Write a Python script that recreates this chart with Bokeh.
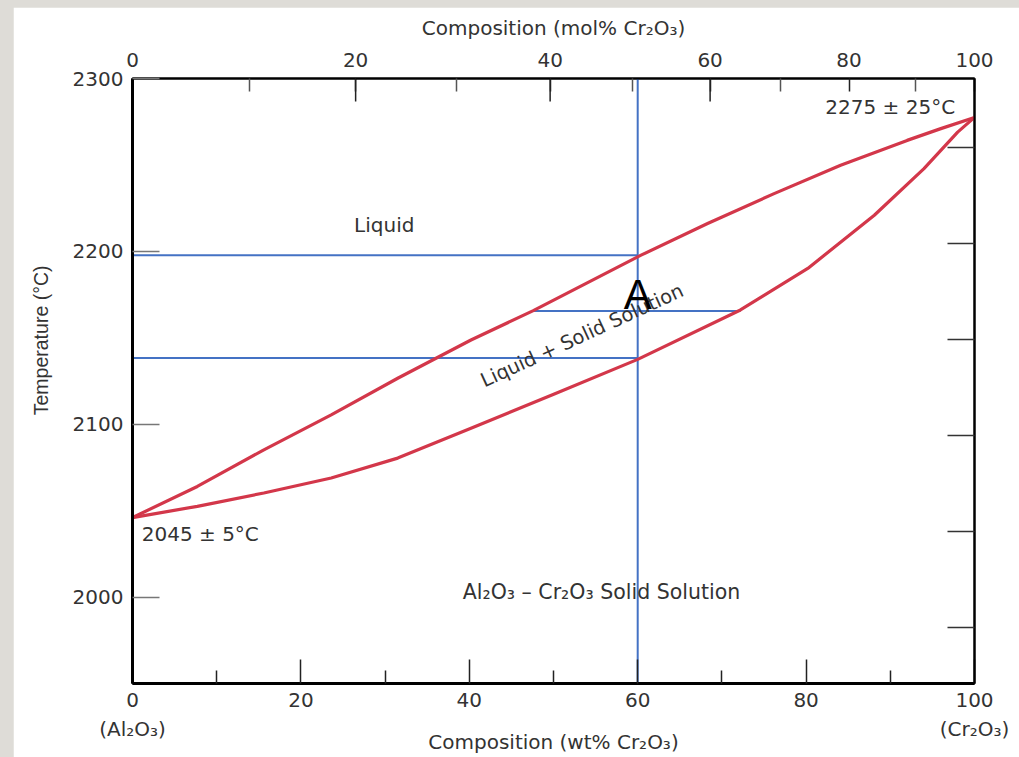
from bokeh.plotting import figure
from bokeh.models import LinearAxis, Range1d, FixedTicker, Label, Title
from bokeh.layouts import column
from bokeh.embed import file_html
from bokeh.resources import INLINE

# ---------------- data ----------------
# bottom axis: composition in wt% Cr2O3
wt_ticks = [0, 20, 40, 60, 80, 100]
wt_minor = [10, 30, 50, 70, 90]
end_ticks = [0, 100]
end_labels = ["(Al\u2082O\u2083)", "(Cr\u2082O\u2083)"]
# top axis: composition in mol% Cr2O3 (positions read in wt%)
mol_labels = ["0", "20", "40", "60", "80", "100"]
mol_tick_wt = [0, 26.5, 49.6, 68.6, 85.1, 100]
mol_minor_wt = [13.9, 38.5, 59.4, 77.0, 93.0]
mol_long_wt = [26.5, 49.6, 68.6]
# temperature
temp_ticks = [2000, 2100, 2200, 2300]
fahr_ticks = [3600, 3700, 3800, 3900, 4000, 4100]
T_min, T_max = 1950, 2300

# liquidus (upper curve)
liquidus_wt = [0, 7.7, 15.6, 23.6, 31.5, 40.2, 47.6, 60.4, 68.3, 76.2, 84.1, 92.0, 96.0, 100]
liquidus_T = [2046, 2064, 2085.2, 2105.4, 2126.6, 2148.7, 2165.7, 2197.8, 2216.1, 2233.4,
              2249.8, 2264.2, 2271.0, 2277.5]
# solidus (lower curve)
solidus_wt = [0, 7.7, 15.6, 23.6, 31.5, 40.2, 50.1, 60.0, 72.2, 80.2, 88.1, 94.0, 98.0, 100]
solidus_T = [2046, 2052.5, 2060.2, 2068.9, 2080.4, 2097.7, 2117.5, 2137.5, 2166.1, 2190.1,
             2220.9, 2247.9, 2269.0, 2277.5]

# point A construction
alloy_wt = 60
T_liq_alloy = 2197.8
T_sol_alloy = 2138.3
T_tie = 2165.5
tie_wt_liq = 47.6
tie_wt_sol = 72.2

# ---------------- figure ----------------
FONT = "DejaVu Sans"
TXT = "#333333"
W, H = 1006, 750
MB_L, MB_R, MB_T, MB_B = 119, 45, 71, 74
px_per_deg = (H - MB_T - MB_B) / (T_max - T_min)

p = figure(width=W, height=H, x_range=Range1d(0, 100), y_range=Range1d(T_min, T_max),
           output_backend="svg", toolbar_location=None, title=None,
           min_border_left=MB_L, min_border_right=MB_R, min_border_top=MB_T, min_border_bottom=MB_B,
           background_fill_color="white", border_fill_color="white",
           outline_line_color="black", outline_line_width=2,
           margin=(7, 0, 0, 13))
p.xgrid.visible = False
p.ygrid.visible = False

def style_labels(ax, size="20px"):
    ax.major_label_text_font = FONT
    ax.major_label_text_font_size = size
    ax.major_label_text_color = TXT
    ax.axis_label_text_font = FONT
    ax.axis_label_text_font_size = "20px"
    ax.axis_label_text_font_style = "normal"
    ax.axis_label_text_color = TXT

# bottom axis (wt%)
xa = p.xaxis[0]
xa.ticker = FixedTicker(ticks=wt_ticks, minor_ticks=wt_minor)
xa.major_tick_in = 24
xa.major_tick_out = 0
xa.minor_tick_in = 13
xa.minor_tick_out = 0
xa.major_tick_line_color = "#222222"
xa.minor_tick_line_color = "#222222"
xa.major_tick_line_width = 1.5
xa.minor_tick_line_width = 1.5
xa.axis_line_color = "black"
xa.axis_line_width = 3
style_labels(xa)
xa.major_label_standoff = 9

# second bottom axis: end-member names + axis title
xb = LinearAxis(ticker=FixedTicker(ticks=end_ticks, minor_ticks=[]),
                major_label_overrides={t: l for t, l in zip(end_ticks, end_labels)})
xb.major_tick_in = 0
xb.major_tick_out = 0
xb.minor_tick_in = 0
xb.minor_tick_out = 0
xb.axis_line_color = None
style_labels(xb)
xb.major_label_standoff = 7
xb.axis_label = "Composition (wt% Cr\u2082O\u2083)"
xb.axis_label_standoff = -14
p.add_layout(xb, "below")

# left axis
ya = p.yaxis[0]
ya.ticker = FixedTicker(ticks=temp_ticks, minor_ticks=[])
ya.major_tick_in = 27
ya.major_tick_out = 0
ya.minor_tick_in = 0
ya.minor_tick_out = 0
ya.major_tick_line_color = "#777777"
ya.major_tick_line_width = 1.5
ya.axis_line_color = "black"
ya.axis_line_width = 3
style_labels(ya)
ya.major_label_standoff = 9

# left title for the temperature axis (leading no-break spaces lift it above centre)
p.add_layout(Title(text="\u00a0" * 15 + "Temperature (\u00b0C)", align="center",
                   vertical_align="top", standoff=32,
                   text_font="Liberation Sans", text_font_size="19.5px",
                   text_font_style="normal", text_color=TXT), "left")

# top axis (mol%)
top = LinearAxis(ticker=FixedTicker(ticks=mol_tick_wt, minor_ticks=mol_minor_wt),
                 major_label_overrides={t: l for t, l in zip(mol_tick_wt, mol_labels)})
top.major_tick_in = 13
top.major_tick_out = 0
top.minor_tick_in = 13
top.minor_tick_out = 0
top.major_tick_line_color = "#222222"
top.minor_tick_line_color = "#555555"
top.major_tick_line_width = 1.5
top.minor_tick_line_width = 1.5
top.axis_line_color = "black"
top.axis_line_width = 2
style_labels(top)
top.major_label_standoff = 12
top.axis_label = "Composition (mol% Cr\u2082O\u2083)"
top.axis_label_standoff = 10
p.add_layout(top, "above")

# right axis (Fahrenheit ticks, unlabeled)
p.extra_y_ranges = {"F": Range1d(T_min * 9 / 5 + 32, T_max * 9 / 5 + 32)}
right = LinearAxis(y_range_name="F", ticker=FixedTicker(ticks=fahr_ticks, minor_ticks=[]),
                   major_label_overrides={t: "" for t in fahr_ticks})
right.major_tick_in = 27
right.major_tick_out = 0
right.minor_tick_in = 0
right.minor_tick_out = 0
right.major_tick_line_color = "#333333"
right.major_tick_line_width = 1.5
right.axis_line_color = "black"
right.axis_line_width = 2
right.major_label_standoff = 0
p.add_layout(right, "right")

# longer top ticks at labelled mol% 20/40/60
long_len = 23 / px_per_deg
p.segment(x0=mol_long_wt, y0=[T_max] * len(mol_long_wt),
          x1=mol_long_wt, y1=[T_max - long_len] * len(mol_long_wt),
          line_color="#222222", line_width=1.5)

# blue construction lines
BLUE = "#4472c4"
p.segment(x0=[0, 0, tie_wt_liq, alloy_wt],
          y0=[T_liq_alloy, T_sol_alloy, T_tie, T_min],
          x1=[alloy_wt, alloy_wt, tie_wt_sol, alloy_wt],
          y1=[T_liq_alloy, T_sol_alloy, T_tie, T_max],
          line_color=BLUE, line_width=2)

# phase boundaries
RED = "#d3374a"
p.line(liquidus_wt, liquidus_T, line_color=RED, line_width=3.2, line_join="round")
p.line(solidus_wt, solidus_T, line_color=RED, line_width=3.2, line_join="round")

# ---------------- labels ----------------
def lab(x, y, text, size="20px", align="center", baseline="middle", angle=0, font=FONT,
        color=TXT):
    p.add_layout(Label(x=x, y=y, text=text, text_font=font, text_font_size=size,
                       text_align=align, text_baseline=baseline, angle=angle,
                       angle_units="deg", text_color=color))

lab(29.9, 2215.5, "Liquid")
lab(53.4, 2151.3, "Liquid + Solid Solution", size="19.5px", angle=24.7)
lab(1.1, 2036.2, "2045 \u00b1 5\u00b0C", align="left")
lab(97.7, 2283.8, "2275 \u00b1 25\u00b0C", align="right")
lab(55.7, 2003.2, "Al\u2082O\u2083 \u2013 Cr\u2082O\u2083 Solid Solution", size="20.5px")
lab(alloy_wt, 2175.0, "A", size="42px", font="Liberation Sans", color="black")

layout = column(p, width=1019, height=757, styles={"background-color": "#dedcd7"})

open("out.html", "w").write(file_html(layout, INLINE))
